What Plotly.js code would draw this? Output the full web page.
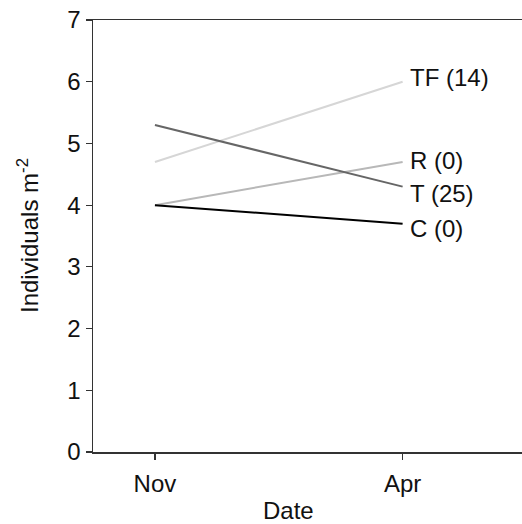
<!DOCTYPE html>
<html>
<head>
<meta charset="utf-8">
<script src="https://cdn.plot.ly/plotly-3.0.1.min.js"></script>
<style>html,body{margin:0;padding:0;background:#fff;}#chart{width:522px;height:524px;}</style>
</head>
<body>
<div id="chart"></div>
<script>
// ---- data ----
var categories = ["Nov", "Apr"];
var seriesNames = ["TF (14)", "R (0)", "T (25)", "C (0)"];
var valuesTF = [4.7, 6.0];
var valuesR = [4.0, 4.7];
var valuesT = [5.3, 4.3];
var valuesC = [4.0, 3.7];
var yTickVals = [0, 1, 2, 3, 4, 5, 6, 7];

// ---- styles ----
var seriesValues = [valuesTF, valuesR, valuesT, valuesC];
var colors = ["#d6d6d6", "#b8b8b8", "#666666", "#000000"];
var labelYShift = [4, 1, -7, -5];
var FONT = "Liberation Sans, Arial, sans-serif";

var traces = seriesValues.map(function (v, i) {
  return {
    x: categories,
    y: v,
    type: "scatter",
    mode: "lines",
    line: { color: colors[i], width: 2 },
    name: seriesNames[i],
    showlegend: false,
    hoverinfo: "skip"
  };
});

var annotations = seriesValues.map(function (v, i) {
  return {
    x: categories[categories.length - 1],
    y: v[v.length - 1],
    xref: "x", yref: "y",
    text: seriesNames[i],
    showarrow: false,
    xanchor: "left", yanchor: "middle",
    xshift: 5, yshift: labelYShift[i],
    font: { family: FONT, size: 24, color: "#111" }
  };
});

annotations.push({
  xref: "paper", yref: "paper",
  x: 0.455, y: 0,
  yshift: -74,
  xanchor: "center", yanchor: "bottom",
  text: "Date",
  showarrow: false,
  font: { family: FONT, size: 24, color: "#111" }
});
annotations.push({
  xref: "paper", yref: "paper",
  x: 0, y: 0.5,
  xshift: -65,
  xanchor: "center", yanchor: "middle",
  textangle: -90,
  text: "Individuals m<sup>-2</sup>",
  showarrow: false,
  font: { family: FONT, size: 24, color: "#111" }
});

var layout = {
  width: 522, height: 524,
  margin: { l: 93, r: 0, t: 20, b: 72 },
  paper_bgcolor: "#fff", plot_bgcolor: "#fff",
  font: { family: FONT, size: 24, color: "#111" },
  xaxis: {
    type: "category",
    range: [-0.25, 1.482],
    showgrid: false, zeroline: false,
    showline: true, linecolor: "#333", linewidth: 1.5,
    mirror: true,
    ticks: "outside", ticklen: 6, tickwidth: 1.2, tickcolor: "#333",
    ticklabelstandoff: 4,
    tickfont: { family: FONT, size: 24, color: "#111" },
    fixedrange: true
  },
  yaxis: {
    range: [0, 7],
    tickvals: yTickVals,
    ticksuffix: "\u00a0",
    showgrid: false, zeroline: false,
    showline: true, linecolor: "#333", linewidth: 1.5,
    ticks: "outside", ticklen: 6, tickwidth: 1.2, tickcolor: "#333",
    tickfont: { family: FONT, size: 24, color: "#111" },
    fixedrange: true
  },
  annotations: annotations
};

Plotly.newPlot("chart", traces, layout, { displayModeBar: false, staticPlot: true });
</script>
</body>
</html>
